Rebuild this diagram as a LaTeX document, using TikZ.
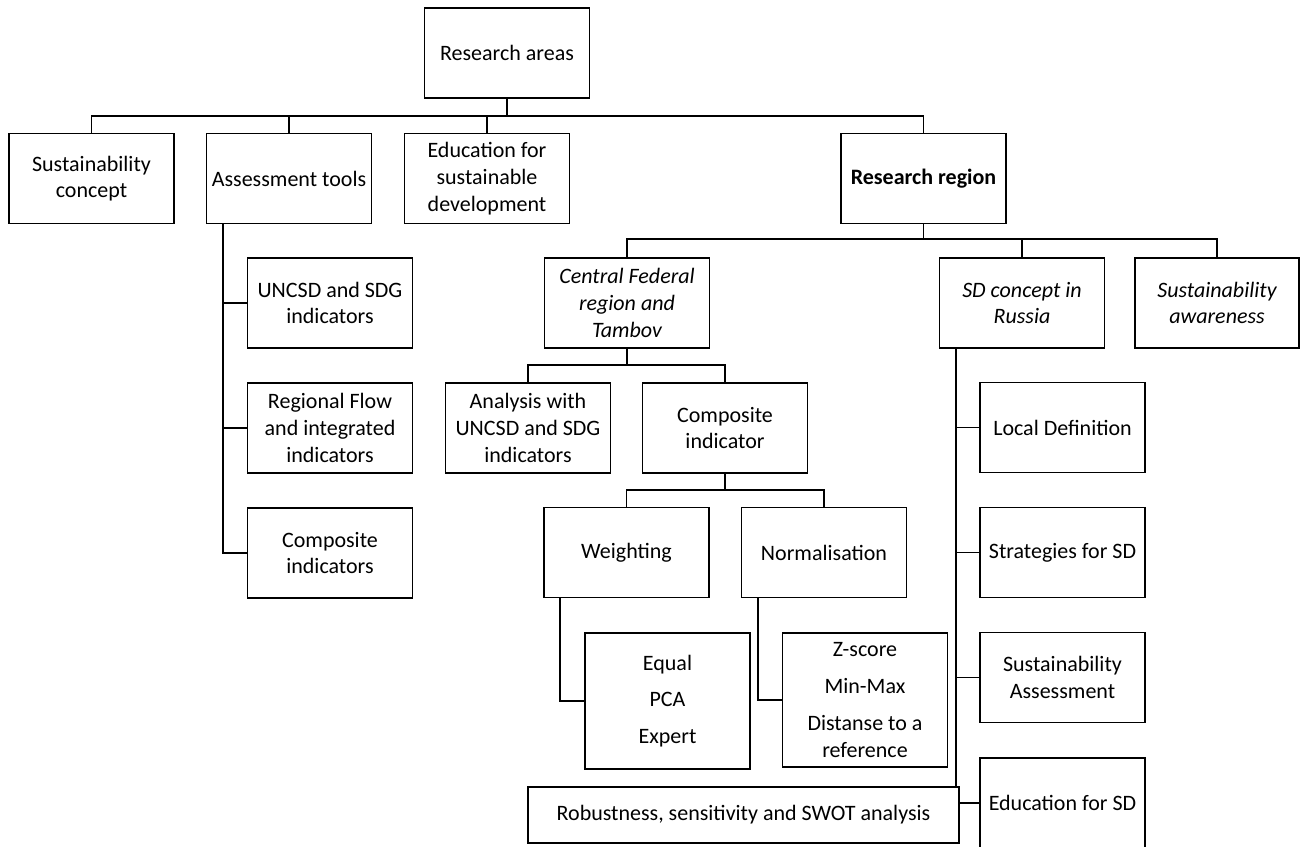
\documentclass[tikz,border=0pt]{standalone}
\usepackage{fontspec}
\setmainfont{Carlito}
\begin{document}
\begin{tikzpicture}[x=1pt,y=-1pt,
  box/.style={draw, line width=1.9pt, fill=white, minimum width=165pt, minimum height=90pt,
              align=center, inner sep=1pt, font=\fontsize{22}{26.7}\selectfont},
  link/.style={line width=1.9pt}]
\useasboundingbox (0,0) rectangle (1300,846);

% level 0 and 1
\node[box] (ra) at (507,53) {Research areas};
\node[box] (sc) at (91.5,178.5) {Sustainability\\concept};
\node[box] (at) at (289,178.5) {Assessment tools};
\node[box] (ed) at (487,178.5) {Education for\\sustainable\\development};
\node[box] (rr) at (923.5,178.5) {\textbf{Research region}};

% assessment tools
\node[box] (un) at (330,303) {UNCSD and SDG\\indicators};
\node[box] (rf) at (330,428) {Regional Flow\\and integrated\\indicators};
\node[box] (ci) at (330,553) {Composite\\indicators};

% research region
\node[box] (cf) at (627,303) {\itshape Central Federal\\\itshape region and\\\itshape Tambov};
\node[box] (sd) at (1022,303) {\itshape SD concept in\\\itshape Russia};
\node[box, minimum width=164pt] (sa) at (1217,303) {\itshape Sustainability\\\itshape awareness};

\node[box] (an) at (528,428) {Analysis with\\UNCSD and SDG\\indicators};
\node[box] (cmp) at (725,428) {Composite\\indicator};

\node[box] (wt) at (626.5,552.5) {Weighting};
\node[box] (nm) at (824,552.5) {Normalisation};
\node[box, minimum height=136pt] (eq) at (667.5,701) {Equal\\[10pt]PCA\\[10pt]Expert};
\node[box, minimum height=134pt] (zs) at (865,700) {Z-score\\[10pt]Min-Max\\[10pt]Distanse to a\\reference};

\node[box] (ld) at (1062.5,427.5) {Local Definition};
\node[box] (st) at (1062.5,552.5) {Strategies for SD};
\node[box] (sas) at (1062.5,677.5) {Sustainability\\Assessment};
\node[box] (esd) at (1062.5,803) {Education for SD};

% top bus
\coordinate (b1) at (507,116);
\draw[link] (ra.south) -- (b1);
\draw[link] (sc.north) -- (sc.north |- b1) -- (rr.north |- b1) -- (rr.north);
\draw[link] (at.north) -- (at.north |- b1);
\draw[link] (ed.north) -- (ed.north |- b1);

% assessment tools trunk
\coordinate (atx) at ([xshift=17pt]at.south west);
\draw[link] (atx) |- (ci.west);
\draw[link] (un.west) -- (un.west -| atx);
\draw[link] (rf.west) -- (rf.west -| atx);

% research region bus
\coordinate (b2) at (923.5,239);
\draw[link] (rr.south) -- (b2);
\draw[link] (cf.north) -- (cf.north |- b2) -- (sa.north |- b2) -- (sa.north);
\draw[link] (sd.north) -- (sd.north |- b2);

% central federal bus
\coordinate (b3) at (627,365);
\draw[link] (cf.south) -- (b3);
\draw[link] (an.north) -- (an.north |- b3) -- (cmp.north |- b3) -- (cmp.north);

% composite indicator bus
\coordinate (b4) at (725,490);
\draw[link] (cmp.south) -- (b4);
\draw[link] (wt.north) -- (wt.north |- b4) -- (nm.north |- b4) -- (nm.north);

% weighting and normalisation elbows
\draw[link] ([xshift=17pt]wt.south west) |- (eq.west);
\draw[link] ([xshift=17pt]nm.south west) |- (zs.west);

% SD concept trunk
\coordinate (sdx) at ([xshift=17pt]sd.south west);
\draw[link] (sdx) |- (esd.west);
\draw[link] (ld.west) -- (ld.west -| sdx);
\draw[link] (st.west) -- (st.west -| sdx);
\draw[link] (sas.west) -- (sas.west -| sdx);

% analysis box across the bottom
\node[box, minimum width=431pt, minimum height=56pt] (rb) at (743.5,815) {Robustness, sensitivity and SWOT analysis};
\end{tikzpicture}
\end{document}
